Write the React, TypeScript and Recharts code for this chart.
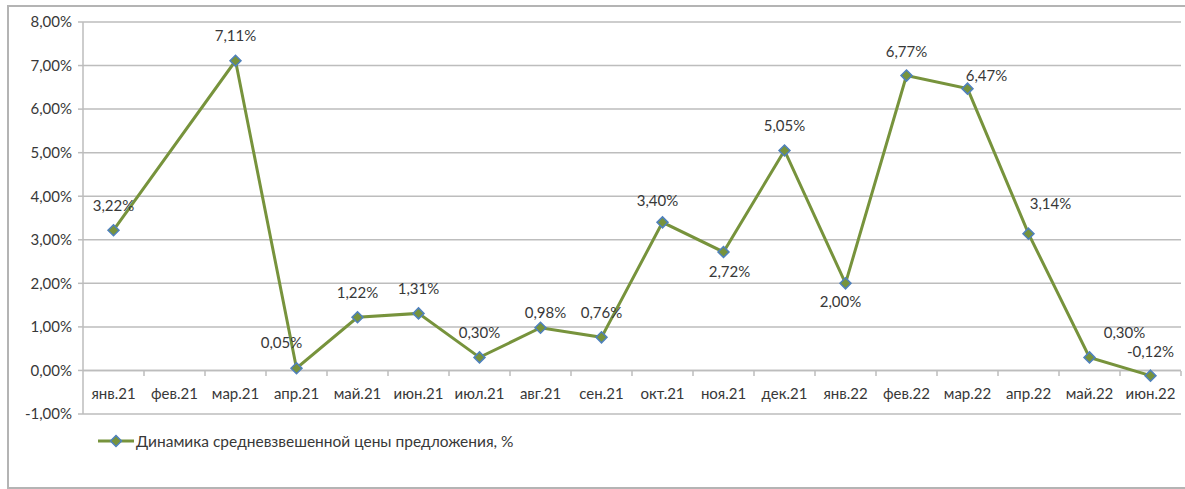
import React from 'react';
import { LineChart, Line, XAxis, YAxis, CartesianGrid, Legend, ReferenceLine } from 'recharts';

const categories = ['янв.21', 'фев.21', 'мар.21', 'апр.21', 'май.21', 'июн.21', 'июл.21', 'авг.21', 'сен.21', 'окт.21', 'ноя.21', 'дек.21', 'янв.22', 'фев.22', 'мар.22', 'апр.22', 'май.22', 'июн.22'];
const values: (number | null)[] = [3.22, null, 7.11, 0.05, 1.22, 1.31, 0.30, 0.98, 0.76, 3.40, 2.72, 5.05, 2.00, 6.77, 6.47, 3.14, 0.30, -0.12];
const yTicks = [-1, 0, 1, 2, 3, 4, 5, 6, 7, 8];
const seriesName = 'Динамика средневзвешенной цены предложения, %';
// label offsets (dx, dy) relative to the point, styling only
const labelOffsets: [number, number][] = [
  [0, -24], [0, 0], [0, -25], [-15, -25], [0, -24], [0, -24], [0, -24], [5, -15], [0, -24],
  [-5, -21], [6, 20], [0, -24], [-5, 19], [0, -24], [19, -13], [22, -30], [35, -24], [0, -24],
];

const data = categories.map((c, i) => ({ cat: c, v: values[i] }));

const GREEN = '#77933C';
const BLUE = '#4F81BD';
const TEXT = '#383838';
const GRID = '#bdbdbd';
const FONT = 'Lato, "Liberation Sans", sans-serif';

const fmt = (v: number) => v.toFixed(2).replace('.', ',') + '%';

const Diamond = (props: any) => {
  const { cx, cy, value } = props;
  if (value === null || value === undefined || cx == null || cy == null) return null;
  const r = 5.5;
  return (
    <polygon
      points={`${cx},${cy - r} ${cx + r},${cy} ${cx},${cy + r} ${cx - r},${cy}`}
      fill={GREEN}
      stroke={BLUE}
      strokeWidth={1.5}
    />
  );
};

const renderLabel = (props: any) => {
  const { x, y, value, index } = props;
  if (value === null || value === undefined) return null;
  const [dx, dy] = labelOffsets[index] || [0, -24];
  return (
    <text x={x + dx} y={y + dy + 5} textAnchor="middle" fill={TEXT} fontSize={15} fontFamily={FONT}>
      {fmt(value)}
    </text>
  );
};

const XTick = (props: any) => {
  const { x, y, payload } = props;
  const half = payload && payload.offset ? payload.offset : 30.5;
  return (
    <g>
      <line x1={x + half} x2={x + half} y1={y - 43} y2={y - 38} stroke={GRID} strokeWidth={1.5} />
      <text x={x} y={y - 15} textAnchor="middle" fill={TEXT} fontSize={15} fontFamily={FONT}>
        {payload.value}
      </text>
    </g>
  );
};

const LegendContent = () => (
  <div style={{ display: 'flex', alignItems: 'center', fontFamily: FONT, fontSize: 15.5, color: TEXT }}>
    <svg width={38} height={14}>
      <line x1={1} x2={37} y1={7} y2={7} stroke={GREEN} strokeWidth={3} />
      <polygon points="19,1.5 24.5,7 19,12.5 13.5,7" fill={GREEN} stroke={BLUE} strokeWidth={1.5} />
    </svg>
    <span style={{ marginLeft: 1 }}>{seriesName}</span>
  </div>
);

export default function App() {
  return (
    <div
      style={{
        position: 'absolute',
        left: 7,
        top: 5,
        width: 1190,
        height: 484,
        border: '2px solid #b4b4b4',
        boxSizing: 'border-box',
        background: '#fff',
      }}
    >
      <LineChart
        width={1176}
        height={480}
        data={data}
        margin={{ top: 15, right: 4, left: 0, bottom: 19 }}
      >
        <CartesianGrid horizontal vertical={false} stroke={GRID} strokeWidth={1.5} />
        <XAxis
          dataKey="cat"
          scale="band"
          axisLine={false}
          tickLine={false}
          tickSize={0}
          tickMargin={0}
          height={30}
          interval={0}
          tick={<XTick />}
        />
        <YAxis
          width={74}
          domain={[-1, 8]}
          ticks={yTicks}
          interval={0}
          tickFormatter={(v: number) => fmt(v)}
          axisLine={{ stroke: GRID, strokeWidth: 1.5 }}
          tickLine={{ stroke: GRID, strokeWidth: 1.5 }}
          tickSize={5}
          tickMargin={6}
          tick={{ fill: TEXT, fontSize: 15, fontFamily: FONT }}
        />
        <ReferenceLine y={0} stroke={GRID} strokeWidth={1.5} />
        <Legend
          verticalAlign="bottom"
          height={24}
          content={<LegendContent />}
          wrapperStyle={{ position: 'absolute', left: 88, top: 425, width: 600, height: 24 }}
        />
        <Line
          type="linear"
          dataKey="v"
          name={seriesName}
          stroke={GREEN}
          strokeWidth={3}
          connectNulls
          dot={<Diamond />}
          activeDot={false}
          label={renderLabel}
          isAnimationActive={false}
        />
      </LineChart>
    </div>
  );
}
